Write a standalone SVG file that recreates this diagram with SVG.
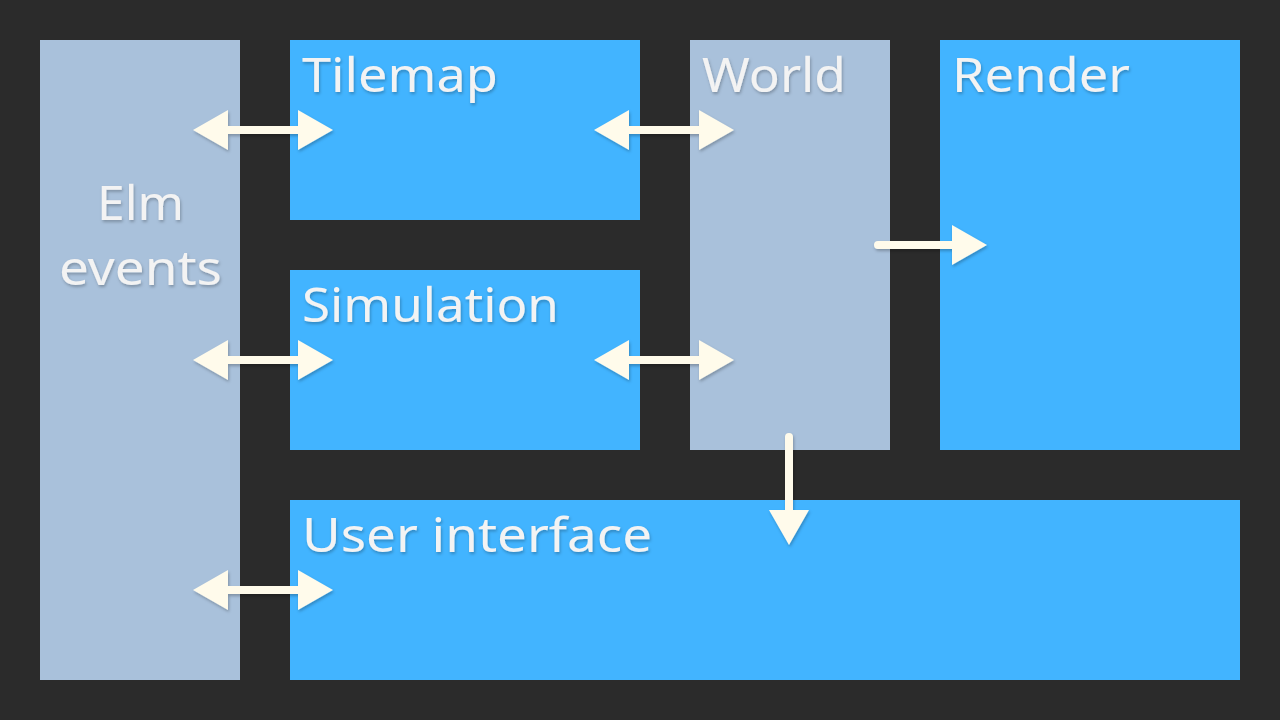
<svg xmlns="http://www.w3.org/2000/svg" width="1280" height="720" viewBox="0 0 1280 720">
<defs>
<filter id="sh" x="-10%" y="-10%" width="130%" height="140%">
<feDropShadow dx="1" dy="2" stdDeviation="1.5" flood-color="#000" flood-opacity="0.25"/>
</filter>
<g id="dbl">
<polygon points="-70,0 -35,-20 -35,-4 35,-4 35,-20 70,0 35,20 35,4 -35,4 -35,20"/>
</g>
</defs>
<style>
.grey{fill:#a9c1db}
.blue{fill:#42b4ff}
.lbl{font-family:"Noto Sans","DejaVu Sans",sans-serif;font-size:47px;fill:#f3f3f3;filter:url(#sh)}
.arr{fill:#fffbeb;filter:url(#sh)}
</style>
<rect width="1280" height="720" fill="#2b2b2b"/>
<g id="elm-events"><rect class="grey" x="40" y="40" width="200" height="640"/>
<text class="lbl" x="97" y="220" textLength="87" lengthAdjust="spacingAndGlyphs">Elm</text>
<text class="lbl" x="59" y="285" textLength="163" lengthAdjust="spacingAndGlyphs">events</text></g>
<g id="tilemap"><rect class="blue" x="290" y="40" width="350" height="180"/><text class="lbl" x="302" y="92" textLength="196" lengthAdjust="spacingAndGlyphs">Tilemap</text></g>
<g id="simulation"><rect class="blue" x="290" y="270" width="350" height="180"/><text class="lbl" x="302" y="322" textLength="257" lengthAdjust="spacingAndGlyphs">Simulation</text></g>
<g id="world"><rect class="grey" x="690" y="40" width="200" height="410"/><text class="lbl" x="702" y="92" textLength="144" lengthAdjust="spacingAndGlyphs">World</text></g>
<g id="render"><rect class="blue" x="940" y="40" width="300" height="410"/><text class="lbl" x="952" y="92" textLength="178" lengthAdjust="spacingAndGlyphs">Render</text></g>
<g id="user-interface"><rect class="blue" x="290" y="500" width="950" height="180"/><text class="lbl" x="302" y="552" textLength="350" lengthAdjust="spacingAndGlyphs">User interface</text></g>
<g id="connectors" class="arr">
<use href="#dbl" x="263" y="130"/>
<use href="#dbl" x="664" y="130"/>
<use href="#dbl" x="263" y="360"/>
<use href="#dbl" x="664" y="360"/>
<use href="#dbl" x="263" y="590"/>
<path d="M878,241 H952 V225 L987,245 L952,265 V249 H878 A4,4 0 0 1 878,241 Z"/>
<path d="M785,437 A4,4 0 0 1 793,437 V510 H809 L789,545 L769,510 H785 Z"/>
</g>
</svg>
